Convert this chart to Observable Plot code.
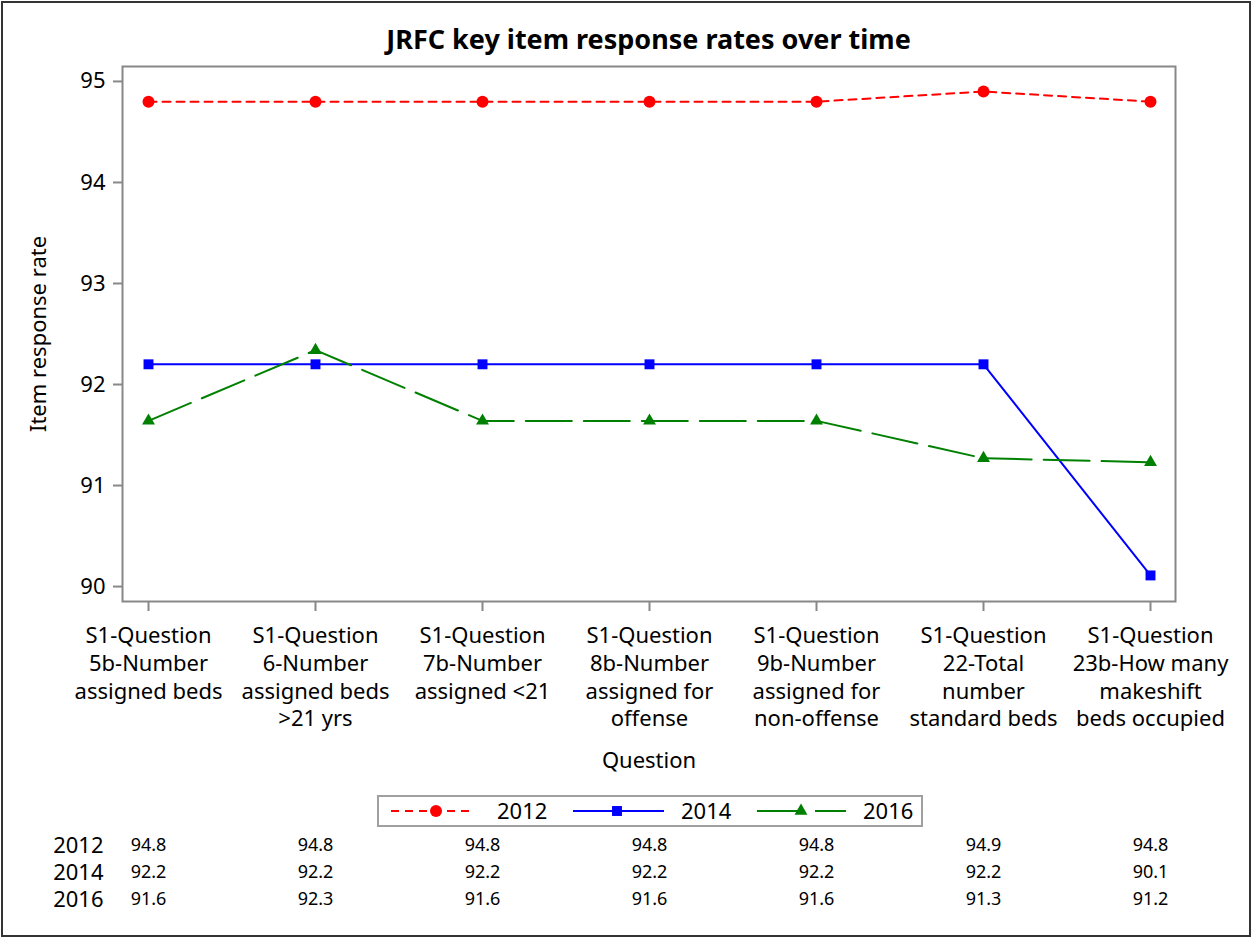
<!DOCTYPE html>
<html>
<head>
<meta charset="utf-8">
<script src="https://cdn.jsdelivr.net/npm/d3@7"></script>
<script src="https://cdn.jsdelivr.net/npm/@observablehq/plot@0.6"></script>
<style>
  html, body { margin: 0; padding: 0; background: #fff; }
  #wrap { position: relative; width: 1252px; height: 938px; font-family: "Noto Sans", sans-serif; color: #000; overflow: hidden; }
  #border { position: absolute; left: 1px; top: 1px; width: 1250px; height: 936px; box-sizing: border-box; border: 2px solid #333; }
  #title { position: absolute; left: 122px; width: 1053px; top: 23px; text-align: center; font-weight: bold; font-size: 27px; line-height: 32px; }
  #main { position: absolute; left: 0; top: 0; }
  #legend { position: absolute; left: 377px; top: 795px; width: 546px; height: 32px; box-sizing: border-box; border: 2px solid #a0a0a0; }
  #legend svg { position: absolute; left: 0; top: 0; overflow: visible; }
  #table { position: absolute; left: 0; top: 830px; }
</style>
</head>
<body>
<div id="wrap">
  <div id="title">JRFC key item response rates over time</div>
  <div id="main"></div>
  <div id="legend"></div>
  <div id="table"></div>
  <div id="border"></div>
</div>
<script>
// ---- Data ----
const questions = [
  "S1-Question\n5b-Number\nassigned beds",
  "S1-Question\n6-Number\nassigned beds\n>21 yrs",
  "S1-Question\n7b-Number\nassigned <21",
  "S1-Question\n8b-Number\nassigned for\noffense",
  "S1-Question\n9b-Number\nassigned for\nnon-offense",
  "S1-Question\n22-Total\nnumber\nstandard beds",
  "S1-Question\n23b-How many\nmakeshift\nbeds occupied"
];
const years = ["2012", "2014", "2016"];
const values2012 = [94.8, 94.8, 94.8, 94.8, 94.8, 94.9, 94.8];
const values2014 = [92.2, 92.2, 92.2, 92.2, 92.2, 92.2, 90.11];
const values2016 = [91.64, 92.34, 91.64, 91.64, 91.64, 91.27, 91.23];
const yTicks = [90, 91, 92, 93, 94, 95];
const colors = ["#FF0000", "#0000FF", "#008000"];
const dashes = ["8,6", null, "46,12"];
const symbols = ["circle", "square", "triangle"];
const symbolR = [6, 5.6, 4.8];

const seriesValues = [values2012, values2014, values2016];
const rows = [];
years.forEach((yr, k) => questions.forEach((q, i) => rows.push({question: q, year: yr, value: seriesValues[k][i]})));

const xScale = {type: "point", domain: questions, padding: 0.135};

// ---- Main chart ----
const marks = [
  Plot.axisY({ticks: yTicks, tickFormat: d3.format("d"), tickSize: 9, tickPadding: 8, stroke: "#888", strokeWidth: 2, fontSize: 22,
    label: "Item response rate", labelAnchor: "center", labelArrow: "none", labelOffset: 92}),
  Plot.axisX({tickSize: 10, tickPadding: 12, stroke: "#888", strokeWidth: 2, fontSize: 22, lineHeight: 1.26,
    label: "Question", labelAnchor: "center", labelArrow: "none", labelOffset: 166}),
  Plot.frame({stroke: "#888", strokeWidth: 2})
];
years.forEach((yr, k) => {
  const d = rows.filter(r => r.year === yr);
  marks.push(Plot.lineY(d, {x: "question", y: "value", stroke: colors[k], strokeWidth: 2,
    strokeDasharray: dashes[k] || undefined}));
});
years.forEach((yr, k) => {
  const d = rows.filter(r => r.year === yr);
  marks.push(Plot.dot(d, {x: "question", y: "value", symbol: () => symbols[k], r: symbolR[k], fill: colors[k], stroke: "none"}));
});

const main = Plot.plot({
  width: 1252, height: 790,
  marginLeft: 122, marginRight: 77, marginTop: 66, marginBottom: 189,
  style: {fontFamily: "Noto Sans", fontSize: "22px", color: "#000", background: "transparent"},
  x: {...xScale, label: "Question"},
  y: {domain: [89.852, 95.148], label: "Item response rate"},
  symbol: {type: "identity"},
  marks
});
document.getElementById("main").appendChild(main);

// ---- Legend ----
const lw = 542, lh = 28, cy = 14;
const ns = "http://www.w3.org/2000/svg";
const lsvg = document.createElementNS(ns, "svg");
lsvg.setAttribute("width", lw); lsvg.setAttribute("height", lh);
lsvg.style.fontFamily = "Noto Sans";
const legendPos = [{x0: 12, x1: 93, mx: 57, tx: 118}, {x0: 194, x1: 285, mx: 238, tx: 302}, {x0: 378, x1: 467, mx: 422, tx: 484}];
years.forEach((yr, k) => {
  const p = legendPos[k];
  const ln = document.createElementNS(ns, "line");
  ln.setAttribute("x1", p.x0); ln.setAttribute("x2", p.x1); ln.setAttribute("y1", cy); ln.setAttribute("y2", cy);
  ln.setAttribute("stroke", colors[k]); ln.setAttribute("stroke-width", 2);
  if (dashes[k]) ln.setAttribute("stroke-dasharray", dashes[k]);
  lsvg.appendChild(ln);
  const sym = document.createElementNS(ns, "path");
  const sz = Math.PI * symbolR[k] * symbolR[k];
  const symType = {circle: d3.symbolCircle, square: d3.symbolSquare, triangle: d3.symbolTriangle}[symbols[k]];
  sym.setAttribute("d", d3.symbol(symType, sz)());
  sym.setAttribute("transform", `translate(${p.mx},${cy})`);
  sym.setAttribute("fill", colors[k]);
  lsvg.appendChild(sym);
  const t = document.createElementNS(ns, "text");
  t.setAttribute("x", p.tx); t.setAttribute("y", cy); t.setAttribute("dy", "0.35em");
  t.setAttribute("font-size", 22); t.textContent = yr;
  lsvg.appendChild(t);
});
document.getElementById("legend").appendChild(lsvg);

// ---- Value table ----
const table = Plot.plot({
  width: 1252, height: 84,
  marginLeft: 122, marginRight: 77, marginTop: 14, marginBottom: 15,
  style: {fontFamily: "Noto Sans", color: "#000", background: "transparent"},
  x: {...xScale, axis: null},
  y: {type: "point", domain: years, padding: 0},
  marks: [
    Plot.axisY({tickSize: 0, tickPadding: 19, fontSize: 22, label: null}),
    Plot.text(rows, {x: "question", y: "year", text: d => d.value.toFixed(1), fontSize: 18})
  ]
});
document.getElementById("table").appendChild(table);
</script>
</body>
</html>
